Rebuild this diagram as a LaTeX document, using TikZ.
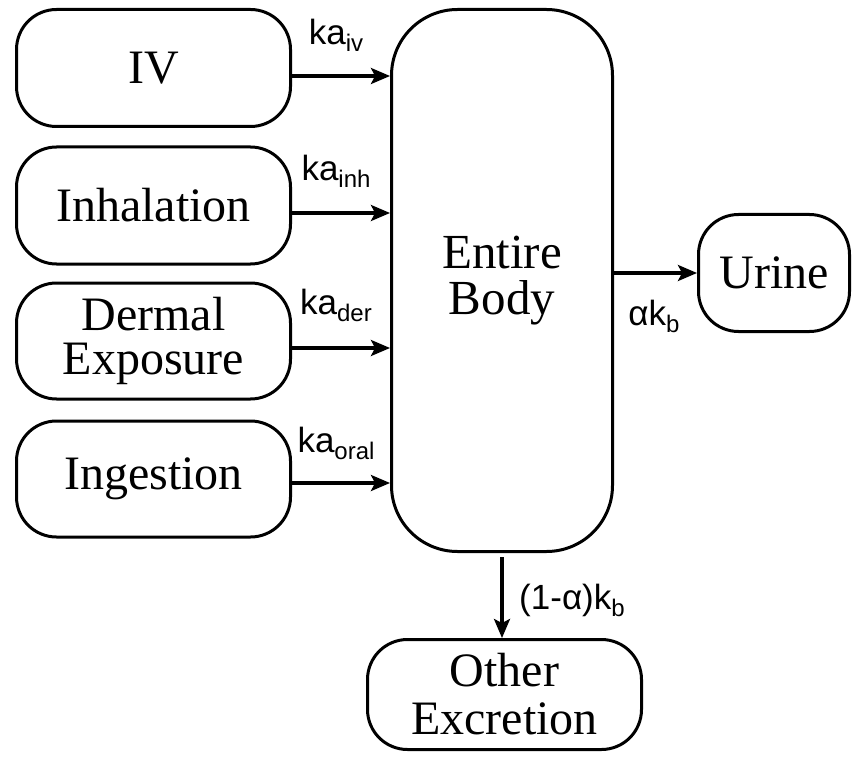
\documentclass[tikz,border=0pt]{standalone}
\usepackage{fontspec}
\setmainfont{Liberation Serif}
\newfontfamily\labfont{Liberation Sans}
\usetikzlibrary{arrows.meta}
\newcommand\sbs[1]{\raisebox{-7pt}{\fontsize{24}{24}\selectfont #1}}
\begin{document}
\begin{tikzpicture}[x=1pt,y=-1pt,
 box/.style={draw, line width=3pt, rounded corners=40pt, align=center,
   font=\fontsize{48}{44}\selectfont, inner sep=0pt},
 flow/.style={line width=3.2pt, -{Stealth[length=19pt,width=16pt,inset=4pt]}},
 rate/.style={font=\labfont\fontsize{35}{36}\selectfont, inner sep=0pt, anchor=base}]
\useasboundingbox (0,0) rectangle (855,757);
\node[box, minimum width=274pt, minimum height=117pt] (iv) at (153.5,68) {IV};
\node[box, minimum width=274pt, minimum height=117pt] (inh) at (153.5,205.5) {Inhalation};
\node[box, minimum width=274pt, minimum height=116pt] (der) at (153.5,341) {Dermal\\Exposure};
\node[box, minimum width=274pt, minimum height=116pt] (ing) at (153.5,479) {Ingestion};
\node[box, rounded corners=66pt, minimum width=221pt, minimum height=542pt,
  font=\fontsize{49}{46}\selectfont] (body) at (502,280.5) {Entire\\Body};
\node[box, minimum width=151pt, minimum height=117pt] (urine) at (774,273) {Urine};
\node[box, minimum width=274pt, minimum height=110pt,
  font=\fontsize{48}{48}\selectfont] (other) at (504.5,694.5) {Other\\Excretion};

\draw[flow] ([yshift=-8pt]iv.east) -- ([yshift=-8pt]iv.east -| body.west);
\draw[flow] ([yshift=-7.5pt]inh.east) -- ([yshift=-7.5pt]inh.east -| body.west);
\draw[flow] ([yshift=-7pt]der.east) -- ([yshift=-7pt]der.east -| body.west);
\draw[flow] ([yshift=-4pt]ing.east) -- ([yshift=-4pt]ing.east -| body.west);
\draw[flow] (urine.west -| body.east) -- (urine.west);
\draw[flow] ([yshift=-4pt]body.south) -- (body.south |- other.north);

\node[rate] (liv) at (336,45) {ka\sbs{iv}};
\node[rate] (linh) at (336,181) {ka\sbs{inh}};
\node[rate] (lder) at (336,314) {ka\sbs{der}};
\node[rate] (loral) at (336,452) {ka\sbs{oral}};
\node[rate] (lurine) at (654,325) {αk\sbs{b}};
\node[rate] (lother) at (572,609) {(1-α)k\sbs{b}};
\end{tikzpicture}
\end{document}
